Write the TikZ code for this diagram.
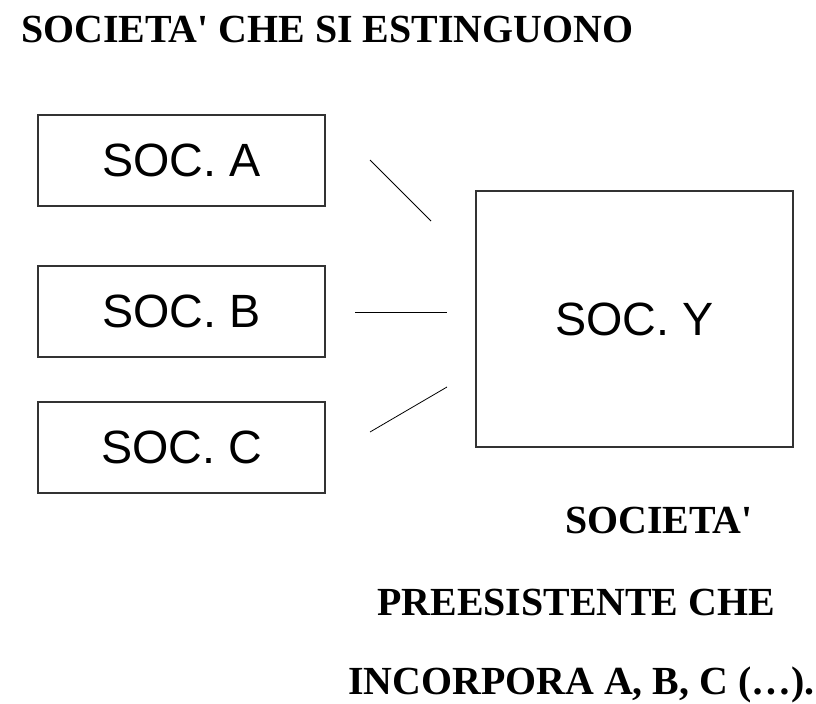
\documentclass[tikz,border=0pt]{standalone}
\usepackage{fontspec}
\setmainfont{Liberation Serif}
\setsansfont{Liberation Sans}
\usepackage{tikz}

\tikzset{
    socbox/.style={draw=black!80, line width=0.8pt, inner sep=0pt,
        font=\fontsize{35}{42}\selectfont\sffamily},
    link/.style={draw=black, line width=0.6pt},
    bigtxt/.style={anchor=base west, inner sep=0pt,
        font=\fontsize{29.9}{36}\selectfont\bfseries}
}

\begin{document}
\begin{tikzpicture}[x=0.75pt, y=-0.75pt]
                \useasboundingbox (0,0) rectangle (816,703);
                % Title
                \node[bigtxt] (title) at (21,42) {SOCIETA\textquotesingle{} CHE SI ESTINGUONO};
                % Boxes Left
                \foreach \n/\y in {A/160.5, B/311.5, C/447.5} {
                    \node[socbox, minimum width=215.25pt, minimum height=68.25pt] (soc\n) at (181.5,\y) {SOC. \n};
                }
                % Box Right
                \node[socbox, minimum width=237.75pt, minimum height=192pt] (socY) at (634.5,319) {SOC. Y};
                % Links
                \coordinate (lA1) at (370,160); \coordinate (lA2) at (431,221);
                \coordinate (lB1) at (355,312); \coordinate (lB2) at (447,312);
                \coordinate (lC1) at (370,432); \coordinate (lC2) at (447,387);
                \draw[link] (lA1) -- (lA2);
                \draw[link] (lB1) -- (lB2);
                \draw[link] (lC1) -- (lC2);
                % Caption
                \node[bigtxt] (cap1) at (565,533) {SOCIETA\textquotesingle};
                \node[bigtxt] (cap2) at (377,615) {PREESISTENTE CHE};
                \node[bigtxt] (cap3) at (348,694) {INCORPORA A, B, C (…).};
            \end{tikzpicture}
\end{document}
